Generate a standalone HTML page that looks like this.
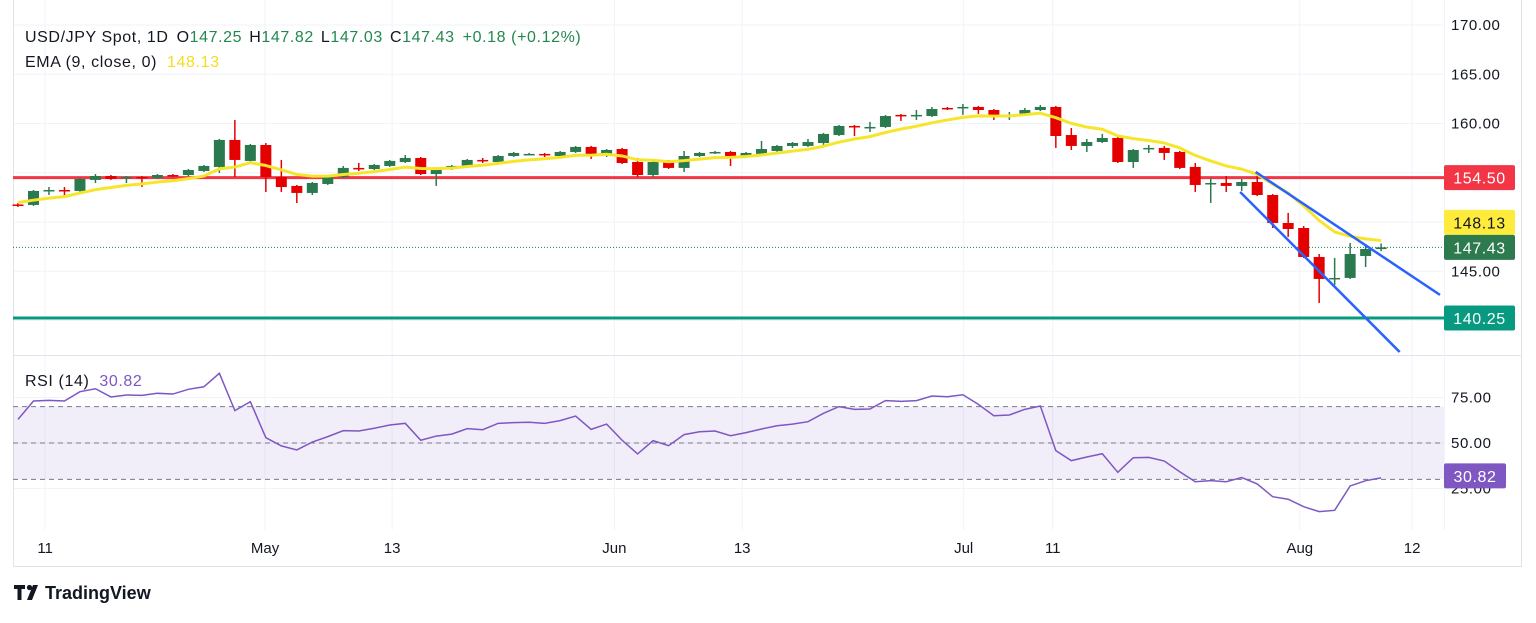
<!DOCTYPE html>
<html><head><meta charset="utf-8">
<style>
html,body{margin:0;padding:0;background:#fff;}
body{width:1536px;height:618px;overflow:hidden;font-family:"Liberation Sans",sans-serif;}
svg text{font-family:"Liberation Sans",sans-serif;}
</style></head>
<body>
<svg id="chart" width="1536" height="618" viewBox="0 0 1536 618" xmlns="http://www.w3.org/2000/svg">
  <g id="grid"></g>
  <g id="rsipane"></g>
  <g id="lines"></g>
  <g id="candles"></g>
  <g id="ema"></g>
  <g id="trend"></g>
  <g id="axis"></g>
  <g id="header">
    <text x="25" y="42" font-size="16" letter-spacing="0.6" fill="#131722"><tspan>USD/JPY Spot, 1D</tspan><tspan dx="8">O</tspan><tspan fill="#22884f">147.25</tspan><tspan dx="7">H</tspan><tspan fill="#22884f">147.82</tspan><tspan dx="7">L</tspan><tspan fill="#22884f">147.03</tspan><tspan dx="7">C</tspan><tspan fill="#22884f">147.43</tspan><tspan dx="8" fill="#22884f">+0.18 (+0.12%)</tspan></text>
    <text x="25" y="67" font-size="16" letter-spacing="0.6" fill="#131722">EMA (9, close, 0)<tspan dx="10" fill="#f7dc1e">148.13</tspan></text>
    <text x="25" y="386" font-size="16" letter-spacing="0.6" fill="#131722">RSI (14)<tspan dx="10" fill="#7e57c2">30.82</tspan></text>
  </g>
  <g>
    <path d="M14 585 h11 v4 h-3.5 v11 h-4 v-11 h-3.5z" fill="#131722"/>
    <circle cx="29.5" cy="587.5" r="2.6" fill="#131722"/>
    <path d="M33 585 h5 l-6 15 h-5z" fill="#131722"/>
    <text x="45" y="599" font-size="18" font-weight="bold" fill="#131722">TradingView</text>
  </g>
</svg>
<script>
const NS="http://www.w3.org/2000/svg";
// ---- data ----
const opens=[151.78,151.73,153.15,153.25,153.15,154.27,154.67,154.47,154.57,154.47,154.77,154.77,155.18,155.59,158.33,156.20,157.82,154.57,153.66,152.95,153.86,154.57,155.49,155.38,155.69,156.09,156.50,154.87,155.38,155.59,156.30,156.09,156.70,156.86,156.91,156.70,157.11,157.62,156.80,157.41,156.09,154.77,156.09,155.49,156.70,156.96,157.11,156.60,156.91,157.21,157.72,157.72,158.02,158.83,159.75,159.60,159.65,160.87,160.82,160.76,161.58,161.58,161.68,161.37,160.82,160.87,161.37,161.68,158.83,157.72,158.12,158.53,156.09,157.46,157.52,157.11,155.59,153.91,153.96,153.66,154.06,152.74,149.90,149.39,146.45,144.22,144.32,146.55,147.25];
const highs=[151.93,153.25,153.55,153.55,154.47,154.87,154.77,154.67,154.67,154.87,154.87,155.38,155.79,158.43,160.36,157.92,158.02,156.30,153.76,154.06,154.77,155.69,155.99,155.89,156.30,156.80,156.60,155.49,155.79,156.40,156.50,156.80,157.11,157.01,157.01,157.21,157.72,157.72,157.41,157.52,156.50,156.30,156.30,157.21,157.11,157.21,157.21,157.11,158.23,157.82,158.12,158.43,159.04,159.85,159.85,160.16,160.87,160.97,161.37,161.68,161.68,161.98,161.78,161.47,161.17,161.58,161.88,161.78,159.54,158.43,158.94,158.73,157.41,157.82,157.72,157.21,155.99,154.47,154.67,154.37,155.08,152.84,150.92,149.59,146.75,146.35,147.87,147.77,147.82];
const lows=[151.53,151.63,152.74,152.64,153.05,153.96,154.27,153.96,153.55,154.37,154.57,154.67,155.08,154.98,154.57,156.09,153.05,153.05,151.93,152.74,153.76,154.47,155.18,155.28,155.59,155.99,154.77,153.66,155.28,155.49,155.99,155.99,156.60,156.80,156.60,156.50,157.01,156.40,156.60,155.89,154.57,154.57,155.38,155.08,156.60,156.91,155.69,156.50,156.80,157.11,157.52,157.62,157.82,158.73,158.73,159.14,159.54,160.26,160.36,160.66,161.37,160.87,160.97,160.36,160.36,160.76,161.27,157.52,157.31,157.11,158.02,155.99,155.49,157.01,156.30,155.38,153.05,151.93,153.05,153.15,152.64,149.39,148.48,146.35,141.78,143.61,144.22,145.43,147.03];
const closes=[151.68,153.15,153.25,153.20,154.37,154.67,154.37,154.57,154.52,154.77,154.72,155.28,155.69,158.33,156.30,157.82,154.57,153.55,152.95,153.96,154.67,155.49,155.44,155.79,156.20,156.50,154.87,155.38,155.69,156.30,156.25,156.70,157.01,156.91,156.86,157.11,157.62,156.80,157.31,155.99,154.77,156.09,155.49,156.70,157.01,157.11,156.70,157.01,157.41,157.72,158.02,158.12,158.94,159.75,159.70,159.65,160.76,160.82,160.87,161.47,161.53,161.68,161.37,160.66,160.87,161.37,161.68,158.73,157.72,158.12,158.53,156.09,157.31,157.52,157.01,155.49,153.76,153.96,153.66,154.06,152.74,149.90,149.29,146.45,144.22,144.32,146.75,147.26,147.43];
const rsiValues=[63.0,73.1,73.4,73.1,78.2,79.8,75.3,76.4,76.2,77.3,76.9,79.5,80.9,88.3,67.8,72.7,52.9,48.4,46.2,50.5,53.5,56.8,56.6,58.1,59.9,60.8,51.5,53.8,54.9,57.9,57.3,60.8,61.2,61.4,60.8,62.3,64.8,57.5,60.4,51.5,44.0,51.3,48.5,54.6,56.2,56.6,54.0,55.7,57.7,59.5,60.4,61.7,66.3,70.0,68.5,68.7,73.3,72.9,73.3,75.8,75.4,76.5,71.2,65.0,65.4,68.5,70.3,45.8,40.3,42.3,44.1,33.9,41.9,42.1,40.1,34.2,28.7,29.3,28.7,31.0,27.5,20.5,19.1,15.0,12.3,13.0,26.4,29.3,30.82];
const priceTicks=[170,165,160,145];
const rsiTicks=[75,50,25];
const rsiBands=[70,50,30];
const dateLabels=["11","May","13","Jun","13","Jul","11","Aug","12"];
const dateIdx=[1.75,15.95,24.15,38.5,46.75,61.05,66.8,82.75,90];
const levels=[154.50,140.25];
const upperTrend=[[79.9,155.08],[91.8,142.6]];
const lowerTrend=[[78.9,153.05],[89.2,136.8]];
const emaLast=148.13, lastClose=147.43, lastRsi=30.82;
// ---- scales ----
const xOf=i=>18+i*15.49;
const yP=p=>25+(170-p)*9.85;
const yR=v=>443-(v-50)*1.82;
const PR=1444;
function mk(tag,attrs,parent){const e=document.createElementNS(NS,tag);for(const k in attrs)e.setAttribute(k,attrs[k]);parent.appendChild(e);return e;}
const G=id=>document.getElementById(id);
// grid
const grid=G('grid');
[170,165,160,155,150,145,140].forEach(p=>{const l=mk('line',{x1:13,x2:PR,y1:yP(p),y2:yP(p),stroke:'#f0f3fa','stroke-width':1},grid);});
dateIdx.forEach(i=>{const l=mk('line',{x1:xOf(i),x2:xOf(i),y1:0,y2:530,stroke:'#f0f3fa','stroke-width':1},grid);});
[75,50,25].forEach(v=>{const l=mk('line',{x1:13,x2:PR,y1:yR(v),y2:yR(v),stroke:'#f0f3fa'},grid);});
const fr=mk('path',{d:'M13.5 0 V566.5 H1521.5 V0',fill:'none',stroke:'#e0e3eb'},grid);

const sep=mk('line',{x1:13,x2:1521,y1:355.5,y2:355.5,stroke:'#e0e3eb'},grid);

const ax=mk('line',{x1:1444.5,x2:1444.5,y1:0,y2:530,stroke:'#f0f3fa'},grid);

// RSI pane
const rp=G('rsipane');
const band=mk('rect',{x:13,y:yR(rsiBands[0]),width:PR-13,height:yR(rsiBands[2])-yR(rsiBands[0]),fill:'#7e57c2','fill-opacity':0.1},rp);

rsiBands.forEach(v=>{const l=mk('line',{x1:13,x2:PR,y1:yR(v),y2:yR(v),stroke:'#787b86','stroke-dasharray':'5 4','stroke-width':1},rp);});
const rl=mk('polyline',{points:rsiValues.map((v,i)=>xOf(i)+','+yR(v)).join(' '),fill:'none',stroke:'#7e57c2','stroke-width':1.5},rp);

// level lines
const ln=G('lines');
const lvCol=['#f23645','#089981'];
levels.forEach((p,k)=>{const l=mk('line',{x1:13,x2:PR,y1:yP(p),y2:yP(p),stroke:lvCol[k],'stroke-width':3},ln);});
const dl=mk('line',{x1:13,x2:PR,y1:yP(lastClose),y2:yP(lastClose),stroke:'#2b7a4f','stroke-width':1,'stroke-dasharray':'1 2'},ln);

// candles
const cg=G('candles');
closes.forEach((c,i)=>{
  const o=opens[i],up=c>=o,col=up?'#2b7a4f':'#e50000',x=xOf(i);
  const w=mk('line',{x1:x,x2:x,y1:yP(highs[i]),y2:yP(lows[i]),stroke:col,'stroke-width':1.5},cg);
  
  const t=Math.min(yP(o),yP(c)),h=Math.max(1.5,Math.abs(yP(o)-yP(c)));
  const b=mk('rect',{x:x-5.5,y:t,width:11,height:h,fill:col},cg);
  
});
// EMA
const ema=[];closes.forEach((c,i)=>{ema.push(i===0?c+0.3:ema[i-1]+(c-ema[i-1])*0.2);});
const eg=mk('polyline',{points:ema.map((v,i)=>xOf(i)+','+yP(v)).join(' '),fill:'none',stroke:'#f7e52b','stroke-width':3,'stroke-linejoin':'round'},G('ema'));

// trend lines
[upperTrend,lowerTrend].forEach((t,k)=>{const l=mk('line',{x1:xOf(t[0][0]),y1:yP(t[0][1]),x2:xOf(t[1][0]),y2:yP(t[1][1]),stroke:'#2962ff','stroke-width':2.5},G('trend'));});
// axes
const axg=G('axis');
priceTicks.forEach(p=>{const t=mk('text',{x:1451,y:yP(p)+5,'font-size':15,'letter-spacing':0.6,fill:'#131722'},axg);t.textContent=p.toFixed(2);});
rsiTicks.forEach(v=>{const t=mk('text',{x:1451,y:yR(v)+5,'font-size':15,'letter-spacing':0.6,fill:'#131722'},axg);t.textContent=v.toFixed(2);});
dateLabels.forEach((s,k)=>{const t=mk('text',{x:xOf(dateIdx[k]),y:553,'font-size':15,fill:'#131722','text-anchor':'middle'},axg);t.textContent=s;});
function badge(val,yc,bg,fg,w,name){
  const g=mk('g',{},axg);
  
  
  mk('rect',{x:1444,y:yc-12.5,width:w,height:25,rx:2,fill:bg},g);
  const t=mk('text',{x:1444+w/2,y:yc+6,'font-size':16,'letter-spacing':0.6,fill:fg,'text-anchor':'middle'},g);t.textContent=val.toFixed(2);
}
badge(levels[0],yP(levels[0]),'#f23645','#fff',71,'badge-154-50');
badge(emaLast,yP(lastClose)-25,'#ffeb3b','#131722',71,'badge-ema');
badge(lastClose,yP(lastClose),'#2d7a4e','#fff',71,'badge-last-price');
badge(levels[1],yP(levels[1]),'#089981','#fff',71,'badge-140-25');
badge(lastRsi,yR(lastRsi)-2,'#7e57c2','#fff',62,'badge-rsi');
</script>
</body></html>
